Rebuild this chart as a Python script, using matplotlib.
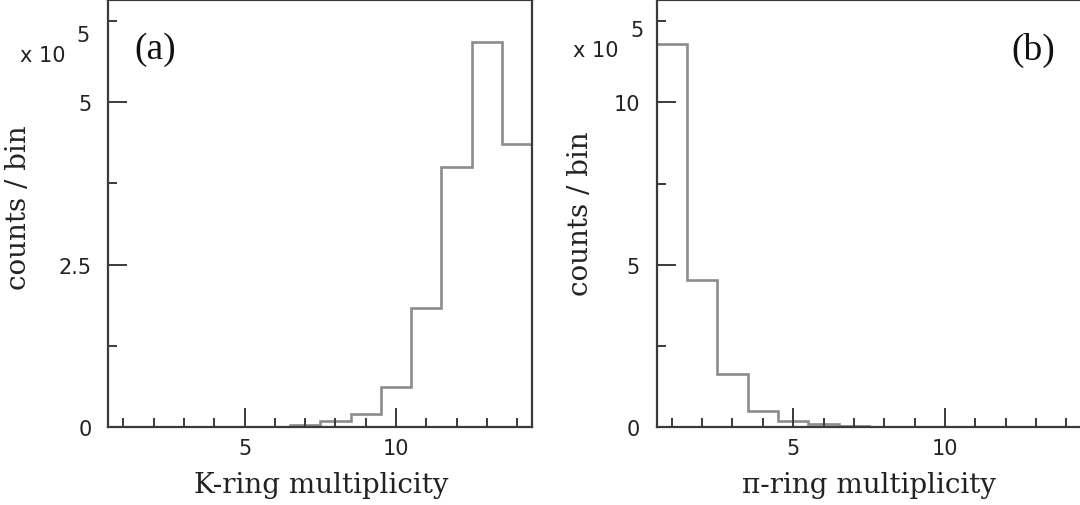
import numpy as np
import matplotlib
matplotlib.use("Agg")
import matplotlib.pyplot as plt
from matplotlib.ticker import FixedLocator

# ---- data (counts / bin, in units of 1e5) ----
bin_edges = np.arange(0.5, 15.0, 1.0)          # 0.5 ... 14.5, bins centred on 1..14
k_ring_counts = [0, 0, 0, 0, 0, 0, 0.04, 0.10, 0.20, 0.62, 1.83, 4.00, 5.92, 4.36]
pi_ring_counts = [11.80, 4.54, 1.63, 0.495, 0.186, 0.113, 0.04, 0.015, 0, 0, 0, 0, 0, 0]

left_yticks = [0, 2.5, 5]
left_yticklabels = ["0", "2.5", "5"]
left_yminor = [1.25, 3.75, 6.25]
right_yticks = [0, 5, 10]
right_yticklabels = ["0", "5", "10"]
right_yminor = [2.5, 7.5, 12.5]
xticks = [5, 10]
xticklabels = ["5", "10"]
xminor = list(range(1, 15))

W, H = 1080, 506
fig = plt.figure(figsize=(W / 100, H / 100), dpi=100)

frame_col = "#3a3a3a"
hist_col = "#8c8c8c"
text_col = "#222222"
tick_font = dict(family="DejaVu Sans", size=15)

def px(x0, y0, x1, y1):
    return [x0 / W, 1 - y1 / H, (x1 - x0) / W, (y1 - y0) / H]

ax1 = fig.add_axes(px(108.3, 0.5, 532.3, 428.3))
ax2 = fig.add_axes(px(656.6, 0.5, 1081.5, 428.3))

for ax, counts, ymax, yt, ytl, ymn in [
    (ax1, k_ring_counts, 6.58, left_yticks, left_yticklabels, left_yminor),
    (ax2, pi_ring_counts, 13.17, right_yticks, right_yticklabels, right_yminor),
]:
    ax.stairs(counts, bin_edges, baseline=None, color=hist_col, lw=1.9)
    ax.set_xlim(0.5, 14.5)
    ax.set_ylim(0, ymax)
    ax.set_xticks(xticks)
    ax.set_xticklabels(xticklabels, fontdict=tick_font, color=text_col)
    ax.xaxis.set_minor_locator(FixedLocator(xminor))
    ax.set_yticks(yt)
    ax.set_yticklabels(ytl, fontdict=tick_font, color=text_col)
    ax.yaxis.set_minor_locator(FixedLocator(ymn))
    ax.tick_params(which="major", direction="in", length=13.5, width=1.4,
                   color=frame_col, top=False, right=False)
    ax.tick_params(which="minor", direction="in", length=6.8, width=1.4,
                   color=frame_col, top=False, right=False)
    ax.tick_params(axis="x", which="major", pad=8)
    ax.tick_params(axis="y", which="major", pad=12)
    for s in ax.spines.values():
        s.set_color(frame_col)
        s.set_linewidth(1.6)

# multiplier labels
def ftext(x, y, s, **kw):
    fig.text(x / W, 1 - y / H, s, **kw)

ftext(20, 62, "x 10", ha="left", va="baseline", color=text_col, **tick_font)
ftext(76, 42, "5", ha="left", va="baseline", color=text_col, **tick_font)
ftext(573, 57, "x 10", ha="left", va="baseline", color=text_col, **tick_font)
ftext(630, 37, "5", ha="left", va="baseline", color=text_col, **tick_font)

# panel tags
ftext(155, 50, "(a)", ha="center", va="center", color="#111111",
      family="Liberation Serif", size=27)
ftext(1033, 50, "(b)", ha="center", va="center", color="#111111",
      family="Liberation Serif", size=27)

# axis titles
ftext(321, 493, "K-ring multiplicity", ha="center", va="baseline", color=text_col,
      family="DejaVu Serif", size=20)
ftext(869, 493, "π-ring multiplicity", ha="center", va="baseline", color=text_col,
      family="DejaVu Serif", size=20)
ftext(18.5, 208, "counts / bin", ha="center", va="center", rotation=90,
      color=text_col, family="DejaVu Serif", size=20)
ftext(580, 214, "counts / bin", ha="center", va="center", rotation=90,
      color=text_col, family="DejaVu Serif", size=20)

fig.savefig("out.png", dpi=100)
